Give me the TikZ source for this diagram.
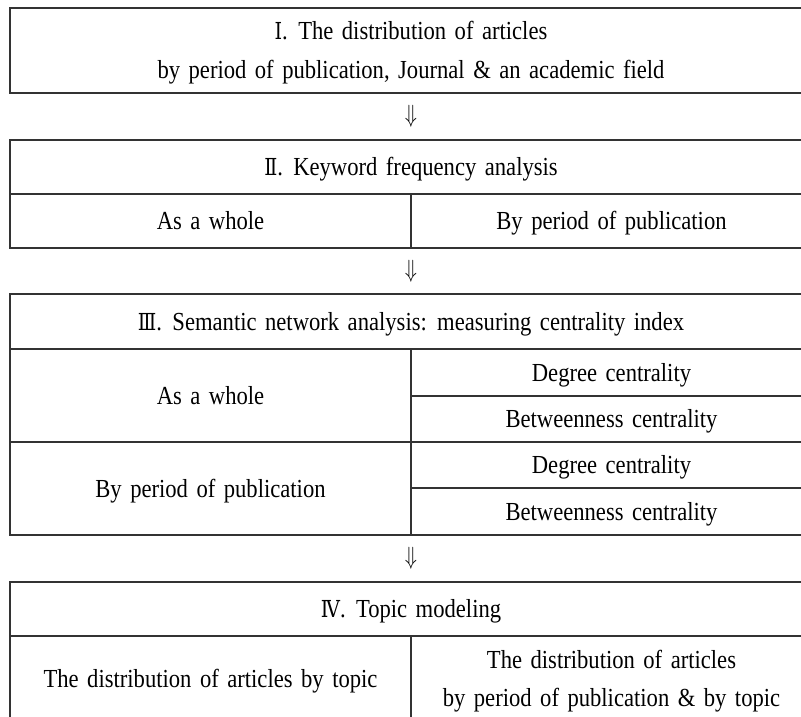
\documentclass[tikz,border=0pt]{standalone}
\usepackage{fontspec}
\setmainfont[FakeStretch=0.87,WordSpace=1.5]{Liberation Serif}
\newfontfamily\romfont[FakeStretch=0.82,Scale=0.9]{DejaVu Serif}
\newcommand{\rnum}[1]{{\romfont #1}}
\begin{document}
\begin{tikzpicture}[x=1pt,y=-1pt,
  frame/.style={draw=black!80, line width=1.2pt},
  txt/.style={anchor=base, inner sep=0pt, font=\fontsize{26}{30}\selectfont},
  arr/.style={anchor=center, inner sep=0pt, font=\fontsize{27}{27}\selectfont}]
\useasboundingbox (0,0) rectangle (801,717);
% ---- Box I
\draw[frame] (10,8) rectangle (812,93);
\node[txt] (t1a) at (411,40) {\rnum{Ⅰ}. The distribution of articles};
\node[txt] (t1b) at (411,78) {by period of publication, Journal \& an academic field};
\node[arr] (a1) at (411,116) {\scalebox{0.8}[1]{$\Downarrow$}};
% ---- Box II
\draw[frame] (10,140) rectangle (812,248);
\draw[frame] (10,194) -- (812,194);
\draw[frame] (411,194) -- (411,248);
\node[txt] (t2) at (411,175.5) {\rnum{Ⅱ}. Keyword frequency analysis};
\node[txt] (t2a) at (210.5,229.5) {As a whole};
\node[txt] (t2b) at (611.5,229.5) {By period of publication};
\node[arr] (a2) at (411,271) {\scalebox{0.8}[1]{$\Downarrow$}};
% ---- Box III
\draw[frame] (10,294) rectangle (812,535);
\draw[frame] (10,349) -- (812,349);
\draw[frame] (10,442) -- (812,442);
\draw[frame] (411,396) -- (812,396);
\draw[frame] (411,488) -- (812,488);
\draw[frame] (411,349) -- (411,535);
\node[txt] (t3) at (411,330) {\rnum{Ⅲ}. Semantic network analysis: measuring centrality index};
\node[txt] (t3a) at (210.5,404) {As a whole};
\node[txt] (t3a1) at (611.5,381) {Degree centrality};
\node[txt] (t3a2) at (611.5,427.5) {Betweenness centrality};
\node[txt] (t3b) at (210.5,497) {By period of publication};
\node[txt] (t3b1) at (611.5,473.5) {Degree centrality};
\node[txt] (t3b2) at (611.5,520) {Betweenness centrality};
\node[arr] (a3) at (411,558.5) {\scalebox{0.8}[1]{$\Downarrow$}};
% ---- Box IV
\draw[frame] (10,582) rectangle (812,721);
\draw[frame] (10,636) -- (812,636);
\draw[frame] (411,636) -- (411,721);
\node[txt] (t4) at (411,617.5) {\rnum{Ⅳ}. Topic modeling};
\node[txt] (t4a) at (210.5,687) {The distribution of articles by topic};
\node[txt] (t4b1) at (611.5,668) {The distribution of articles};
\node[txt] (t4b2) at (611.5,706) {by period of publication \& by topic};
\end{tikzpicture}
\end{document}
